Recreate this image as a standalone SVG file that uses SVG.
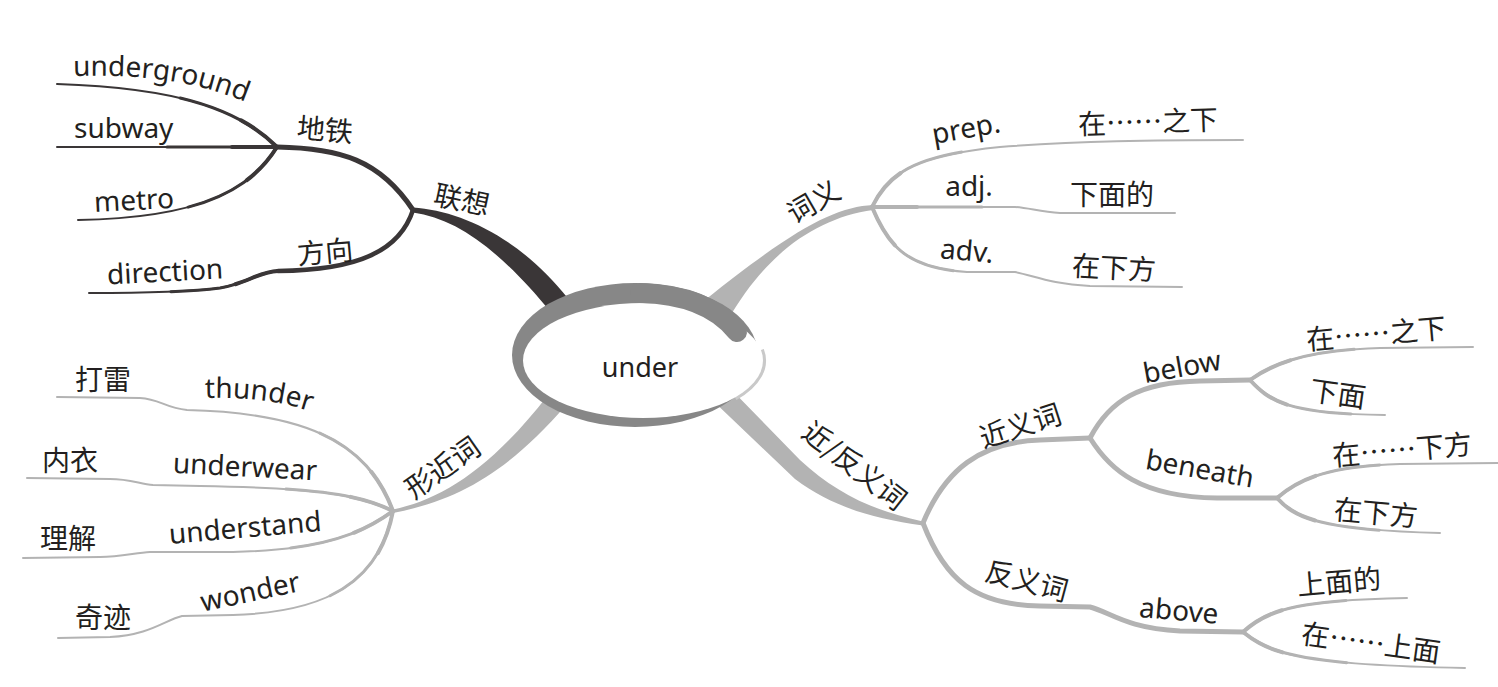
<svg xmlns="http://www.w3.org/2000/svg" width="1498" height="687" viewBox="0 0 1498 687">
<style>
.en{font-family:"Noto Sans","Open Sans","Noto Sans CJK SC",sans-serif;font-size:28px;fill:#231f20}
.zh{font-family:"Noto Sans CJK SC","Noto Sans",sans-serif;font-size:28px;fill:#231f20}
.ctr{text-anchor:middle}
.dk{fill:none;stroke:#3a3637;stroke-linecap:round;stroke-linejoin:round}
.lt{fill:none;stroke:#b3b3b3;stroke-linecap:round;stroke-linejoin:round}
.b1{stroke-width:5}
.t1{stroke-width:2}
.t2{stroke-width:3;stroke-dasharray:110 3000}
.t3{stroke-width:4;stroke-dasharray:45 3000}
</style>
<defs>
<path id="tp-underground" d="M73,76 C150,74 200,82 255,106"/>
<path id="tp-thunder" d="M205,398 C245,397 285,401 320,415"/>
<path id="l-underground" d="M277,147 C240,110 180,88 57,84"/>
<path id="l-subway" d="M277,147 L57,147"/>
<path id="l-metro" d="M277,147 C250,190 200,218 78,220"/>
<path id="l-direction" d="M278,271 C258,272 248,283 220,288 C180,293 120,293 89,293"/>
<path id="l-prep" d="M872,207 C890,170 920,155 1000,147 C1080,141 1150,140 1243,140"/>
<path id="l-adj" d="M872,207 L1015,207 C1030,208 1040,212 1060,213 L1175,213"/>
<path id="l-adv" d="M872,207 C890,250 910,268 967,272 L1015,272 C1035,276 1050,284 1090,286 L1182,287"/>
<path id="l-b1" d="M1250,380 C1275,362 1310,350 1380,348 L1473,347"/>
<path id="l-b2" d="M1250,380 C1270,402 1290,414 1385,415"/>
<path id="l-n1" d="M1277,498 C1300,478 1330,466 1400,464 L1498,463"/>
<path id="l-n2" d="M1277,498 C1295,518 1320,530 1440,533"/>
<path id="l-a1" d="M1243,632 C1265,612 1290,600 1407,598"/>
<path id="l-a2" d="M1243,632 C1268,652 1295,665 1465,668"/>
<path id="l-thunder" d="M393,511 C370,450 320,413 187,410 C165,408 160,399 140,398 L57,397"/>
<path id="l-underwear" d="M393,511 C360,495 320,488 200,486 L153,485 C140,484 130,479 110,479 L27,478"/>
<path id="l-understand" d="M393,511 C360,535 320,550 233,552 L150,552 C135,553 120,557 100,557 L23,558"/>
<path id="l-wonder" d="M393,511 C380,580 330,612 233,615 L182,616 C165,620 150,635 110,637 L58,638"/>
</defs>
<rect width="1498" height="687" fill="#fff"/>
<g id="connectors">
  <!-- 联想 (dark) -->
  <path d="M413,207.5 C462,211 520,238 568.5,299 L551.5,313 C501,252 459,219 413,212.5 Z" fill="#3a3637"/>
  <path class="dk b1" d="M413,210 C380,160 340,148 277,147"/>
  <path class="dk" style="stroke-width:4.5" d="M413,210 C400,250 360,270 278,271"/>
  <use href="#l-underground" class="dk t1"/><use href="#l-underground" class="dk t2"/><use href="#l-underground" class="dk t3"/>
  <use href="#l-subway" class="dk t1"/><use href="#l-subway" class="dk t2"/><use href="#l-subway" class="dk t3"/>
  <use href="#l-metro" class="dk t1"/><use href="#l-metro" class="dk t2"/><use href="#l-metro" class="dk t3"/>
  <use href="#l-direction" class="dk t1"/><use href="#l-direction" class="dk t2"/><use href="#l-direction" class="dk t3"/>
  <!-- 词义 -->
  <path d="M873,205 C835,207 795,228 705,300 L728,320 C765,255 815,218 873,210 Z" fill="#b3b3b3"/>
  <use href="#l-prep" class="lt t1"/><use href="#l-prep" class="lt t2"/><use href="#l-prep" class="lt t3"/>
  <use href="#l-adj" class="lt t1"/><use href="#l-adj" class="lt t2"/><use href="#l-adj" class="lt t3"/>
  <use href="#l-adv" class="lt t1"/><use href="#l-adv" class="lt t2"/><use href="#l-adv" class="lt t3"/>
  <!-- 近/反义词 -->
  <path d="M722,380 L800,460 C835,492 870,510 923,521.5 L923,525.5 C868,518 830,505 795,479 L708,396 Z" fill="#b3b3b3"/>
  <path class="lt b1" d="M923,523 C945,470 980,442 1040,440 L1090,438"/>
  <path class="lt b1" d="M923,523 C945,580 975,605 1040,606 L1090,607 C1110,612 1125,628 1180,631 L1243,632"/>
  <path class="lt b1" d="M1090,438 C1110,400 1140,382 1200,381 L1250,380"/>
  <path class="lt b1" d="M1090,438 C1110,470 1140,497 1217,498 L1277,498"/>
  <use href="#l-b1" class="lt t1"/><use href="#l-b1" class="lt t2"/><use href="#l-b1" class="lt t3"/>
  <use href="#l-b2" class="lt t1"/><use href="#l-b2" class="lt t2"/><use href="#l-b2" class="lt t3"/>
  <use href="#l-n1" class="lt t1"/><use href="#l-n1" class="lt t2"/><use href="#l-n1" class="lt t3"/>
  <use href="#l-n2" class="lt t1"/><use href="#l-n2" class="lt t2"/><use href="#l-n2" class="lt t3"/>
  <use href="#l-a1" class="lt t1"/><use href="#l-a1" class="lt t2"/><use href="#l-a1" class="lt t3"/>
  <use href="#l-a2" class="lt t1"/><use href="#l-a2" class="lt t2"/><use href="#l-a2" class="lt t3"/>
  <!-- 形近词 -->
  <path d="M393,509.5 C440,500 490,470 548,395 L566,405 C510,470 460,500 393,513 Z" fill="#b3b3b3"/>
  <use href="#l-thunder" class="lt t1"/><use href="#l-thunder" class="lt t2"/><use href="#l-thunder" class="lt t3"/>
  <use href="#l-underwear" class="lt t1"/><use href="#l-underwear" class="lt t2"/><use href="#l-underwear" class="lt t3"/>
  <use href="#l-understand" class="lt t1"/><use href="#l-understand" class="lt t2"/><use href="#l-understand" class="lt t3"/>
  <use href="#l-wonder" class="lt t1"/><use href="#l-wonder" class="lt t2"/><use href="#l-wonder" class="lt t3"/>
</g>
<g id="node-under">
  <ellipse cx="635" cy="355" rx="123" ry="72" fill="#878787"/>
  <path d="M761,350 A120,57.5 0 0 1 735,397.5" fill="none" stroke="#c9c9c9" stroke-width="6"/>
  <ellipse cx="643" cy="360.5" rx="120" ry="57.5" fill="#fff"/>
  <path d="M640,293 C685,294 718,308 737,332" fill="none" stroke="#878787" stroke-width="20" stroke-linecap="round"/>
  <text class="en ctr" x="640" y="377" style="font-size:27px">under</text>
</g>
<g id="node-lianxiang"><text class="zh ctr" transform="translate(462,199) rotate(12)" y="11">联想</text></g>
<g id="node-ditie"><text class="zh ctr" transform="translate(325,129) rotate(5)" y="11">地铁</text></g>
<g id="node-fangxiang"><text class="zh ctr" transform="translate(325,251) rotate(-5)" y="11">方向</text></g>
<g id="node-underground"><text class="en"><textPath href="#tp-underground">underground</textPath></text></g>
<g id="node-subway"><text class="en" x="74" y="138">subway</text></g>
<g id="node-metro"><text class="en ctr" transform="translate(134,200) rotate(-3)" y="10">metro</text></g>
<g id="node-direction"><text class="en ctr" transform="translate(165,271) rotate(-3)" y="10.5">direction</text></g>

<g id="node-ciyi"><text class="zh ctr" transform="translate(813,201) rotate(-30)" y="11">词义</text></g>
<g id="node-prep"><text class="en ctr" transform="translate(967,134) rotate(-10)" y="4">prep.</text></g>
<g id="node-adj"><text class="en ctr" transform="translate(969,189)" y="7">adj.</text></g>
<g id="node-adv"><text class="en ctr" transform="translate(967,250) rotate(5)" y="10.5">adv.</text></g>
<g id="node-zaizhixia1"><text class="zh ctr" transform="translate(1148,121) rotate(-2)" y="11">在……之下</text></g>
<g id="node-xiamiande"><text class="zh ctr" transform="translate(1112,194)" y="11">下面的</text></g>
<g id="node-zaixiafang1"><text class="zh ctr" transform="translate(1114,267) rotate(3)" y="11">在下方</text></g>

<g id="node-jinfanyici"><text class="zh ctr" transform="translate(855,465) rotate(38)" y="11">近/反义词</text></g>
<g id="node-jinyici"><text class="zh ctr" transform="translate(1020,425) rotate(-18)" y="11">近义词</text></g>
<g id="node-fanyici"><text class="zh ctr" transform="translate(1027,580) rotate(15)" y="11">反义词</text></g>
<g id="node-below"><text class="en ctr" transform="translate(1182,366) rotate(-10)" y="10.5">below</text></g>
<g id="node-zaizhixia2"><text class="zh ctr" transform="translate(1376,333) rotate(-5)" y="11">在……之下</text></g>
<g id="node-xiamian"><text class="zh ctr" transform="translate(1338,393) rotate(8)" y="11">下面</text></g>
<g id="node-beneath"><text class="en ctr" transform="translate(1200,468) rotate(10)" y="10.5">beneath</text></g>
<g id="node-zaixiafang2"><text class="zh ctr" transform="translate(1402,449) rotate(-5)" y="11">在……下方</text></g>
<g id="node-zaixiafang3"><text class="zh ctr" transform="translate(1376,512) rotate(5)" y="11">在下方</text></g>
<g id="node-above"><text class="en ctr" transform="translate(1179,610) rotate(5)" y="10.5">above</text></g>
<g id="node-shangmiande"><text class="zh ctr" transform="translate(1339,581) rotate(-5)" y="11">上面的</text></g>
<g id="node-zaishangmian"><text class="zh ctr" transform="translate(1371,642) rotate(8)" y="11">在……上面</text></g>

<g id="node-xingjinci"><text class="zh ctr" transform="translate(442,467) rotate(-35)" y="11">形近词</text></g>
<g id="node-thunder"><text class="en"><textPath href="#tp-thunder">thunder</textPath></text></g>
<g id="node-dalei"><text class="zh ctr" transform="translate(103,379)" y="11">打雷</text></g>
<g id="node-underwear"><text class="en ctr" transform="translate(245,466) rotate(3)" y="10.5">underwear</text></g>
<g id="node-neiyi"><text class="zh ctr" transform="translate(70,460)" y="11">内衣</text></g>
<g id="node-understand"><text class="en ctr" transform="translate(245,527) rotate(-5)" y="10.5">understand</text></g>
<g id="node-lijie"><text class="zh ctr" transform="translate(68,538)" y="11">理解</text></g>
<g id="node-wonder"><text class="en ctr" transform="translate(250,591) rotate(-12)" y="10.5">wonder</text></g>
<g id="node-qiji"><text class="zh ctr" transform="translate(103,617)" y="11">奇迹</text></g>
</svg>
